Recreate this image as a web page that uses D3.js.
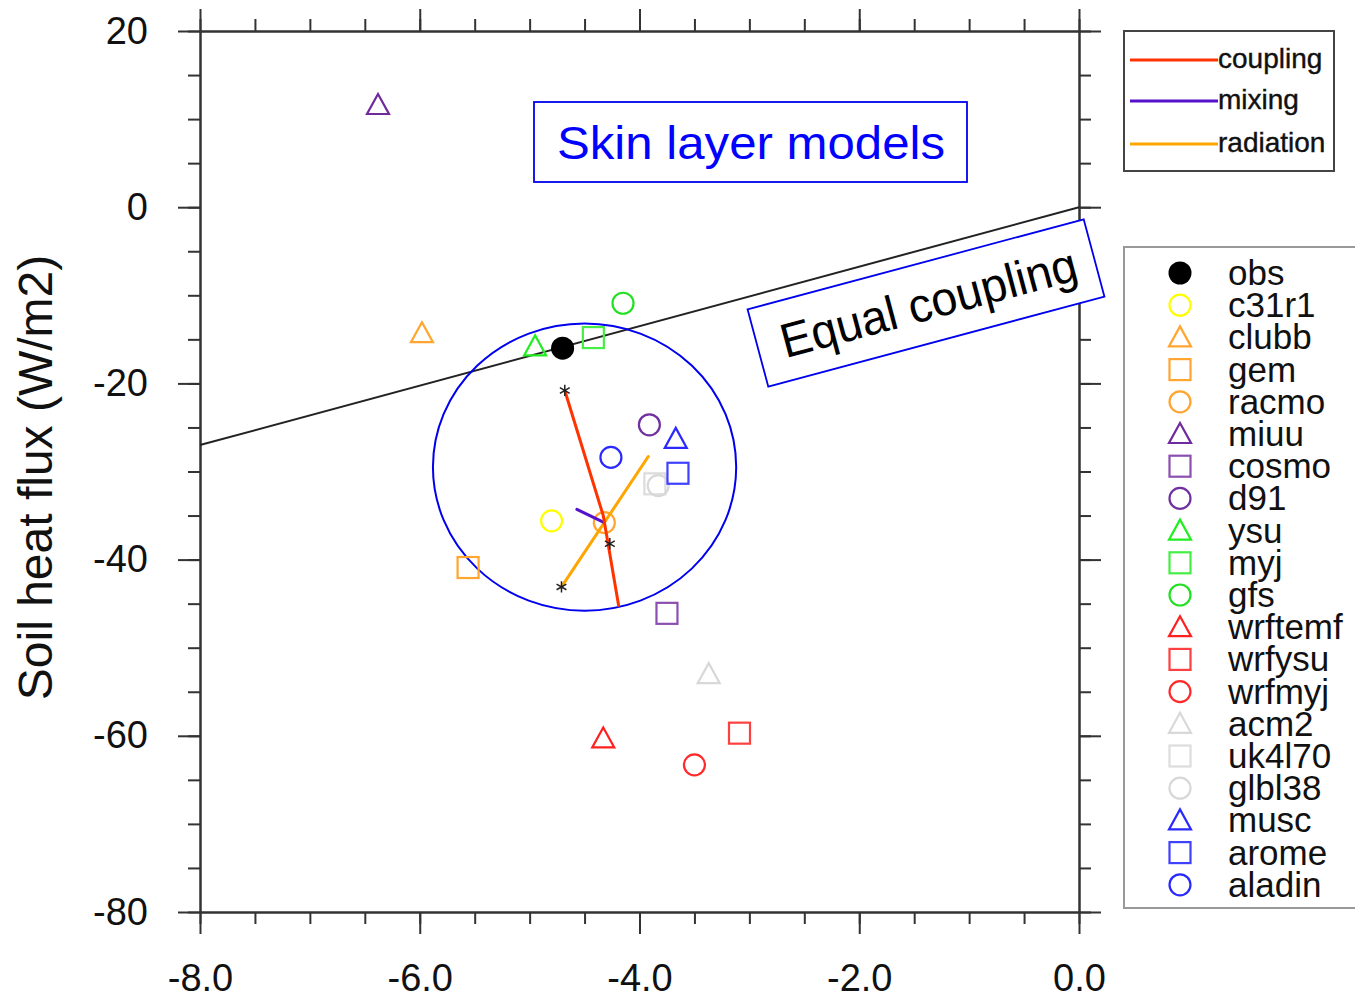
<!DOCTYPE html>
<html>
<head>
<meta charset="utf-8">
<script src="https://cdn.jsdelivr.net/npm/d3@7"></script>
<style>
  html, body { margin: 0; padding: 0; background: #fff; }
  svg { display: block; }
  text { font-family: "Liberation Sans", Arial, Helvetica, sans-serif; }
</style>
</head>
<body>
<svg id="chart" width="1355" height="999"></svg>
<script>
// ---- data ---------------------------------------------------------------
const models = ["obs", "c31r1", "clubb", "gem", "racmo", "miuu", "cosmo", "d91",
  "ysu", "myj", "gfs", "wrftemf", "wrfysu", "wrfmyj", "acm2", "uk4l70", "glbl38",
  "musc", "arome", "aladin"];
const modelShapes = ["dot", "circle", "triangle", "square", "circle", "triangle", "square", "circle",
  "triangle", "square", "circle", "triangle", "square", "circle", "triangle", "square", "circle",
  "triangle", "square", "circle"];
const modelColors = ["#000000", "#ffff00", "#ffa530", "#ffa530", "#ffa530", "#6f2a9e", "#8a4fb0", "#7030a0",
  "#22ee22", "#44ee44", "#22e022", "#ff2020", "#ff4040", "#ff2a2a", "#d8d8d8", "#dcdcdc", "#d8d8d8",
  "#2a2aff", "#4040ff", "#2a2aff"];
// x: coupling slope, y: soil heat flux (W/m2)
const modelX = [-4.70, -4.80, -5.98, -5.56, -4.32, -6.38, -3.75, -3.91,
  -4.95, -4.42, -4.15, -4.33, -3.09, -3.50, -3.37, -3.86, -3.83,
  -3.67, -3.65, -4.26];
const modelY = [-16.0, -35.6, -14.3, -40.9, -35.8, 11.6, -46.1, -24.7,
  -15.8, -14.8, -10.9, -60.3, -59.7, -63.3, -53.0, -31.4, -31.6,
  -26.3, -30.2, -28.4];

// sensitivity lines
const processNames = ["coupling", "mixing", "radiation"];
const processColors = ["#ff3300", "#5511cc", "#ffa500"];
const couplingX = [-4.68, -4.33, -4.19];
const couplingY = [-20.8, -35.0, -45.2];
const mixingX = [-4.57, -4.32];
const mixingY = [-34.3, -35.8];
const radiationX = [-4.71, -3.92];
const radiationY = [-43.1, -28.3];
const starX = [-4.68, -4.27, -4.71];
const starY = [-20.8, -38.2, -43.1];

// equal-coupling reference line
const refX = [-8, 0];
const refY = [-27, 0];

// skin-layer cluster ellipse: centre and radii in data units
const clusterCenter = [-4.50, -29.5];
const clusterRadius = [1.38, 16.3];

// axis ticks
const xMajor = [-8, -6, -4, -2, 0];
const xMinor = d3.range(-8, 0.001, 0.5);
const yMajor = [-80, -60, -40, -20, 0, 20];
const yMinor = d3.range(-80, 20.001, 5);

// ---- layout --------------------------------------------------------------
const svg = d3.select("#chart");
const plotLeft = 200, plotRight = 1079, plotTop = 31, plotBottom = 912;
const x = d3.scaleLinear().domain([-8, 0]).range([plotLeft, plotRight]);
const y = d3.scaleLinear().domain([-80, 20]).range([plotBottom, plotTop]);
const axisColor = "#333";

function styleAxis(g) {
  g.selectAll("path.domain").attr("stroke", axisColor).attr("stroke-width", 2);
  g.selectAll(".tick line").attr("stroke", axisColor).attr("stroke-width", 2);
  g.selectAll(".tick text").attr("fill", "#111").attr("font-size", 38)
    .attr("font-family", "'Liberation Sans', Arial, sans-serif");
}

// minor ticks on all four sides
svg.append("g").attr("transform", `translate(0,${plotBottom})`)
  .call(d3.axisBottom(x).tickValues(xMinor).tickSize(12).tickSizeOuter(0).tickFormat(""))
  .call(styleAxis);
svg.append("g").attr("transform", `translate(0,${plotTop})`)
  .call(d3.axisTop(x).tickValues(xMinor).tickSize(12).tickSizeOuter(0).tickFormat(""))
  .call(styleAxis);
svg.append("g").attr("transform", `translate(${plotLeft},0)`)
  .call(d3.axisLeft(y).tickValues(yMinor).tickSize(12).tickSizeOuter(0).tickFormat(""))
  .call(styleAxis);
svg.append("g").attr("transform", `translate(${plotRight},0)`)
  .call(d3.axisRight(y).tickValues(yMinor).tickSize(12).tickSizeOuter(0).tickFormat(""))
  .call(styleAxis);

// major ticks with labels
svg.append("g").attr("transform", `translate(0,${plotBottom})`)
  .call(d3.axisBottom(x).tickValues(xMajor).tickSize(22).tickSizeOuter(0).tickPadding(30)
    .tickFormat(d => d.toFixed(1)))
  .call(styleAxis);
svg.append("g").attr("transform", `translate(0,${plotTop})`)
  .call(d3.axisTop(x).tickValues(xMajor).tickSize(22).tickSizeOuter(0).tickFormat(""))
  .call(styleAxis);
svg.append("g").attr("transform", `translate(${plotLeft},0)`)
  .call(d3.axisLeft(y).tickValues(yMajor).tickSize(22).tickSizeOuter(0).tickPadding(30)
    .tickFormat(d => String(d)))
  .call(styleAxis);
svg.append("g").attr("transform", `translate(${plotRight},0)`)
  .call(d3.axisRight(y).tickValues(yMajor).tickSize(22).tickSizeOuter(0).tickFormat(""))
  .call(styleAxis);

// y-axis title
svg.append("text")
  .attr("transform", `translate(52,${(plotTop + plotBottom) / 2 + 6}) rotate(-90)`)
  .attr("text-anchor", "middle")
  .attr("font-size", 48)
  .attr("fill", "#111")
  .text("Soil heat flux (W/m2)");

// ---- plot contents -------------------------------------------------------
const plot = svg.append("g");

// equal-coupling line
plot.append("line")
  .attr("x1", x(refX[0])).attr("y1", y(refY[0]))
  .attr("x2", x(refX[1])).attr("y2", y(refY[1]))
  .attr("stroke", "#222").attr("stroke-width", 2);

// skin-layer cluster
plot.append("ellipse")
  .attr("cx", x(clusterCenter[0])).attr("cy", y(clusterCenter[1]))
  .attr("rx", x(clusterCenter[0] + clusterRadius[0]) - x(clusterCenter[0]))
  .attr("ry", y(clusterCenter[1] - clusterRadius[1]) - y(clusterCenter[1]))
  .attr("fill", "none").attr("stroke", "#0000ee").attr("stroke-width", 2);

// shape drawing helper
function drawShape(g, shape, cx, cy, color) {
  if (shape === "dot") {
    g.append("circle").attr("cx", cx).attr("cy", cy).attr("r", 11.5).attr("fill", color);
  } else if (shape === "circle") {
    g.append("circle").attr("cx", cx).attr("cy", cy).attr("r", 10.5)
      .attr("fill", "none").attr("stroke", color).attr("stroke-width", 2.2);
  } else if (shape === "square") {
    g.append("rect").attr("x", cx - 10.5).attr("y", cy - 10.5).attr("width", 21).attr("height", 21)
      .attr("fill", "none").attr("stroke", color).attr("stroke-width", 2.2);
  } else if (shape === "triangle") {
    const p = `M${cx},${cy - 11}L${cx + 11},${cy + 9}L${cx - 11},${cy + 9}Z`;
    g.append("path").attr("d", p).attr("fill", "none").attr("stroke", color)
      .attr("stroke-width", 2.2).attr("stroke-linejoin", "miter");
  }
}

// model markers (obs drawn last so it sits on top)
const order = d3.range(models.length).slice(1).concat([0]);
order.forEach(i => drawShape(plot, modelShapes[i], x(modelX[i]), y(modelY[i]), modelColors[i]));

// process sensitivity lines
const lineGen = d3.line();
const procX = [couplingX, mixingX, radiationX];
const procY = [couplingY, mixingY, radiationY];
[2, 1, 0].forEach(k => {
  plot.append("path")
    .attr("d", lineGen(procX[k].map((v, j) => [x(v), y(procY[k][j])])))
    .attr("fill", "none").attr("stroke", processColors[k]).attr("stroke-width", 3)
    .attr("stroke-linecap", "round").attr("stroke-linejoin", "round");
});

// end-point asterisks
const star = d3.symbol().type(d3.symbolAsterisk).size(90);
starX.forEach((v, j) => {
  plot.append("path").attr("d", star())
    .attr("transform", `translate(${x(v)},${y(starY[j])})`)
    .attr("fill", "none").attr("stroke", "#222").attr("stroke-width", 1.5);
});

// ---- annotations ---------------------------------------------------------
const comic = "'Comic Sans MS', 'Comic Neue', 'DejaVu Sans', sans-serif";

svg.append("rect").attr("x", 534).attr("y", 102).attr("width", 433).attr("height", 80)
  .attr("fill", "#fff").attr("stroke", "#0000ee").attr("stroke-width", 1.8);
svg.append("text").attr("x", 557).attr("y", 159)
  .attr("font-family", comic).attr("font-size", 46).attr("fill", "#0000ff")
  .attr("textLength", 388).attr("lengthAdjust", "spacingAndGlyphs")
  .text("Skin layer models");

const eq = svg.append("g").attr("transform", "translate(926,303) rotate(-15)");
eq.append("rect").attr("x", -174).attr("y", -40).attr("width", 348).attr("height", 80)
  .attr("fill", "#fff").attr("stroke", "#0000ee").attr("stroke-width", 1.8);
eq.append("text").attr("x", -150).attr("y", 17)
  .attr("font-family", comic).attr("font-size", 48).attr("fill", "#000")
  .attr("textLength", 305).attr("lengthAdjust", "spacingAndGlyphs")
  .text("Equal coupling");

// ---- legend: processes ---------------------------------------------------
const leg1 = svg.append("g");
leg1.append("rect").attr("x", 1124).attr("y", 31).attr("width", 210).attr("height", 140)
  .attr("fill", "#fff").attr("stroke", "#444").attr("stroke-width", 2);
const leg1Y = [60, 101, 144];
processNames.forEach((name, k) => {
  leg1.append("line").attr("x1", 1130).attr("x2", 1218)
    .attr("y1", leg1Y[k]).attr("y2", leg1Y[k])
    .attr("stroke", processColors[k]).attr("stroke-width", 3);
  leg1.append("text").attr("x", 1218).attr("y", leg1Y[k] + 8)
    .attr("font-size", 28).attr("fill", "#111")
    .attr("stroke", "#111").attr("stroke-width", 0.4)
    .text(name);
});

// ---- legend: models ------------------------------------------------------
const leg2 = svg.append("g");
leg2.append("rect").attr("x", 1124).attr("y", 247).attr("width", 260).attr("height", 661)
  .attr("fill", "#fff").attr("stroke", "#999").attr("stroke-width", 2);
const rowY = i => 273 + i * 32.2;
models.forEach((name, i) => {
  drawShape(leg2, modelShapes[i], 1180, rowY(i), modelColors[i]);
  leg2.append("text").attr("x", 1228).attr("y", rowY(i) + 12)
    .attr("font-size", 35).attr("fill", "#111")
    .text(name);
});
</script>
</body>
</html>
